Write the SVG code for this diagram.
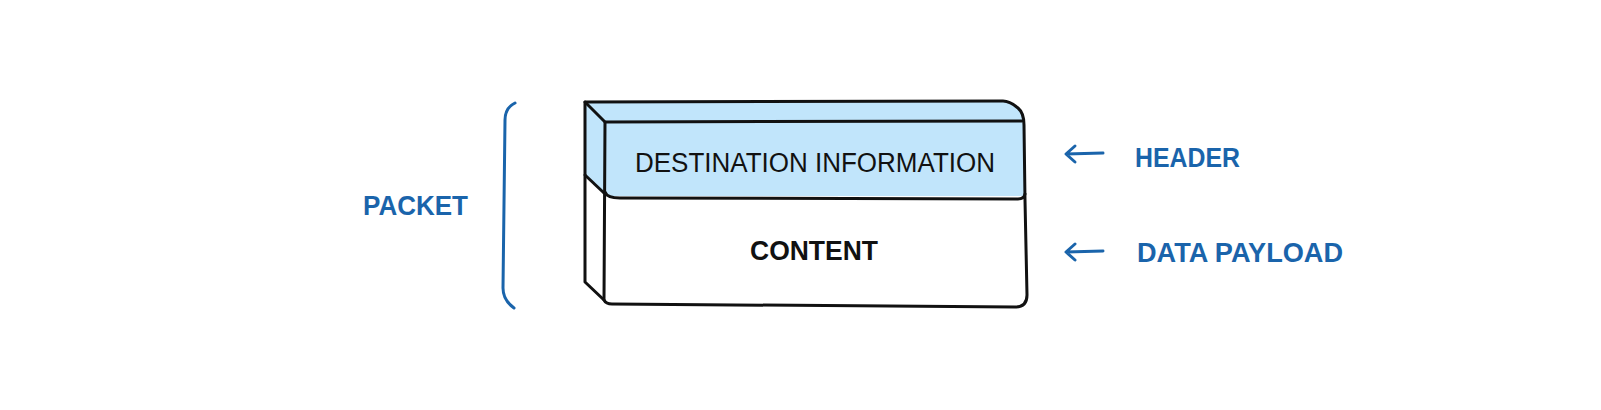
<svg xmlns="http://www.w3.org/2000/svg" width="1601" height="410" viewBox="0 0 1601 410">
<style>
.ink{fill:none;stroke:#111;stroke-width:3;stroke-linecap:round;stroke-linejoin:round}
.blue{fill:none;stroke:#1a64ab;stroke-width:3;stroke-linecap:round;stroke-linejoin:round}
.lbl{font-family:"Liberation Sans",Arial,sans-serif;font-weight:bold;font-size:27px;fill:#1a64ab}
.txt{font-family:"Liberation Sans",Arial,sans-serif;font-size:27px;fill:#111}
</style>
<rect width="1601" height="410" fill="#fff"/>
<g id="packet-label">
<path class="blue" d="M515,103 Q505,108 505,120 L503,288 Q503,300 514,308"/>
<text class="lbl" x="363" y="215" textLength="105" lengthAdjust="spacingAndGlyphs">PACKET</text>
</g>
<g id="packet-box">
<path d="M585,102 L1003,101 Q1012,101 1020,110 Q1024,115 1024,125 L1025,196 L605,196 L605,122 L585,102 Z" fill="#c1e5fb"/>
<path d="M585,102 L605,122 L605,194 L585,175 Z" fill="#c1e5fb"/>
<path class="ink" d="M585,102 L1003,101 Q1010,101 1018,108 Q1024,113 1024,125 L1025,200 L1027,295 Q1027,307 1015,307 L612,304 Q606,304 604,300 L585,282 L585,102 Z"/>
<path class="ink" d="M585,102 L605,122 L1022,121"/>
<path class="ink" d="M605,122 L604,300"/>
<path class="ink" d="M585,175 L604,193"/>
<path class="ink" d="M605,192 Q607,198 620,198 L1018,199 Q1024,199 1025,194"/>
<text class="txt" x="635" y="172" textLength="360" lengthAdjust="spacingAndGlyphs">DESTINATION INFORMATION</text>
<text class="txt" x="750" y="260" font-weight="bold" textLength="128" lengthAdjust="spacingAndGlyphs">CONTENT</text>
</g>
<g id="header-label">
<text class="lbl" x="1135" y="167" textLength="105" lengthAdjust="spacingAndGlyphs">HEADER</text>
</g>
<g id="payload-label">
<text class="lbl" x="1137" y="262" textLength="206" lengthAdjust="spacingAndGlyphs">DATA PAYLOAD</text>
</g>
<g id="connectors">
<path class="blue" d="M1103,153 L1066,154 M1075,146 L1066,154 L1075,162"/>
<path class="blue" d="M1103,251 L1066,252 M1075,244 L1066,252 L1075,260"/>
</g>
</svg>
